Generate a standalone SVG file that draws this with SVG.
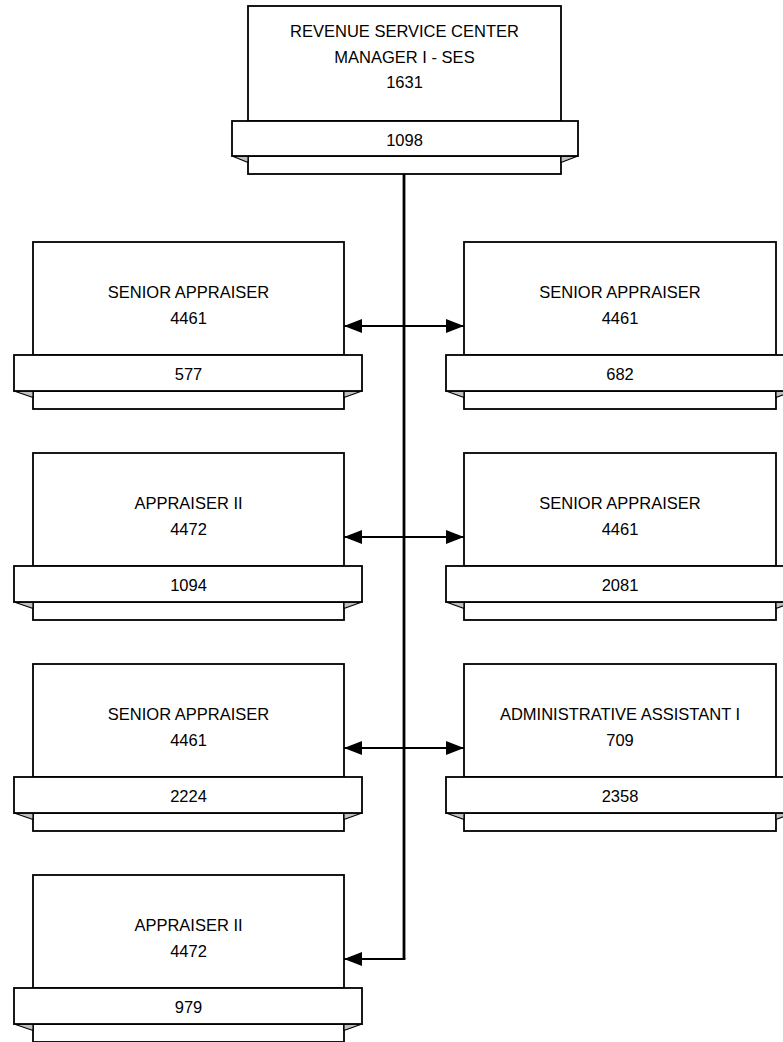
<svg xmlns="http://www.w3.org/2000/svg" width="783" height="1042" viewBox="0 0 783 1042">
<style>
.box{fill:#fff;stroke:#000;stroke-width:1.8}
.tri{fill:#c0c0c0;stroke:#000;stroke-width:1.2;stroke-linejoin:round}
.t{font-family:"Liberation Sans",Arial,sans-serif;font-size:16.5px;fill:#000;text-anchor:middle}
.conn{fill:none;stroke:#000;stroke-width:2.2}
.trunk{fill:none;stroke:#000;stroke-width:2.8}
</style>
<defs>
<marker id="ah" markerUnits="userSpaceOnUse" markerWidth="19" markerHeight="15" refX="18" refY="7" orient="auto-start-reverse">
<path d="M0,0 L18,7 L0,14 z" fill="#000"/>
</marker>
</defs>
<rect width="783" height="1042" fill="#fff"/>

<g id="n-top">
<rect class="box" x="248" y="6" width="313" height="115"/>
<rect class="box" x="248" y="156" width="313" height="18"/>
<path class="tri" d="M232,156 L248,156 L248,162.5 z"/>
<path class="tri" d="M578,156 L561,156 L561,162.5 z"/>
<rect class="box" x="232" y="121" width="346" height="35"/>
<text class="t" x="404.5" y="37">REVENUE SERVICE CENTER</text>
<text class="t" x="404.5" y="63">MANAGER I - SES</text>
<text class="t" x="404.5" y="88">1631</text>
<text class="t" x="404.5" y="146">1098</text>
</g>

<g id="n-l1">
<rect class="box" x="33" y="242" width="311" height="113"/>
<rect class="box" x="33" y="391" width="311" height="18"/>
<path class="tri" d="M14,391 L33,391 L33,397.5 z"/>
<path class="tri" d="M362,391 L344,391 L344,397.5 z"/>
<rect class="box" x="14" y="355" width="348" height="36"/>
<text class="t" x="188.5" y="298">SENIOR APPRAISER</text>
<text class="t" x="188.5" y="324">4461</text>
<text class="t" x="188.5" y="380">577</text>
</g>

<g id="n-r1">
<rect class="box" x="464" y="242" width="312" height="113"/>
<rect class="box" x="464" y="391" width="312" height="18"/>
<path class="tri" d="M446,391 L464,391 L464,397.5 z"/>
<path class="tri" d="M794,391 L776,391 L776,397.5 z"/>
<rect class="box" x="446" y="355" width="348" height="36"/>
<text class="t" x="620" y="298">SENIOR APPRAISER</text>
<text class="t" x="620" y="324">4461</text>
<text class="t" x="620" y="380">682</text>
</g>

<g id="n-l2">
<rect class="box" x="33" y="453" width="311" height="113"/>
<rect class="box" x="33" y="602" width="311" height="18"/>
<path class="tri" d="M14,602 L33,602 L33,608.5 z"/>
<path class="tri" d="M362,602 L344,602 L344,608.5 z"/>
<rect class="box" x="14" y="566" width="348" height="36"/>
<text class="t" x="188.5" y="509">APPRAISER II</text>
<text class="t" x="188.5" y="535">4472</text>
<text class="t" x="188.5" y="591">1094</text>
</g>

<g id="n-r2">
<rect class="box" x="464" y="453" width="312" height="113"/>
<rect class="box" x="464" y="602" width="312" height="18"/>
<path class="tri" d="M446,602 L464,602 L464,608.5 z"/>
<path class="tri" d="M794,602 L776,602 L776,608.5 z"/>
<rect class="box" x="446" y="566" width="348" height="36"/>
<text class="t" x="620" y="509">SENIOR APPRAISER</text>
<text class="t" x="620" y="535">4461</text>
<text class="t" x="620" y="591">2081</text>
</g>

<g id="n-l3">
<rect class="box" x="33" y="664" width="311" height="113"/>
<rect class="box" x="33" y="813" width="311" height="18"/>
<path class="tri" d="M14,813 L33,813 L33,819.5 z"/>
<path class="tri" d="M362,813 L344,813 L344,819.5 z"/>
<rect class="box" x="14" y="777" width="348" height="36"/>
<text class="t" x="188.5" y="720">SENIOR APPRAISER</text>
<text class="t" x="188.5" y="746">4461</text>
<text class="t" x="188.5" y="802">2224</text>
</g>

<g id="n-r3">
<rect class="box" x="464" y="664" width="312" height="113"/>
<rect class="box" x="464" y="813" width="312" height="18"/>
<path class="tri" d="M446,813 L464,813 L464,819.5 z"/>
<path class="tri" d="M794,813 L776,813 L776,819.5 z"/>
<rect class="box" x="446" y="777" width="348" height="36"/>
<text class="t" x="620" y="720">ADMINISTRATIVE ASSISTANT I</text>
<text class="t" x="620" y="746">709</text>
<text class="t" x="620" y="802">2358</text>
</g>

<g id="n-l4">
<rect class="box" x="33" y="875" width="311" height="113"/>
<rect class="box" x="33" y="1024" width="311" height="18"/>
<path class="tri" d="M14,1024 L33,1024 L33,1030.5 z"/>
<path class="tri" d="M362,1024 L344,1024 L344,1030.5 z"/>
<rect class="box" x="14" y="988" width="348" height="36"/>
<text class="t" x="188.5" y="931">APPRAISER II</text>
<text class="t" x="188.5" y="957">4472</text>
<text class="t" x="188.5" y="1013">979</text>
</g>

<g id="connectors">
<path class="trunk" d="M404,174 L404,959"/>
<path class="conn" d="M344,326 L464,326" marker-start="url(#ah)" marker-end="url(#ah)"/>
<path class="conn" d="M344,537 L464,537" marker-start="url(#ah)" marker-end="url(#ah)"/>
<path class="conn" d="M344,748 L464,748" marker-start="url(#ah)" marker-end="url(#ah)"/>
<path class="conn" d="M405.4,959 L344,959" marker-end="url(#ah)"/>
</g>
</svg>
